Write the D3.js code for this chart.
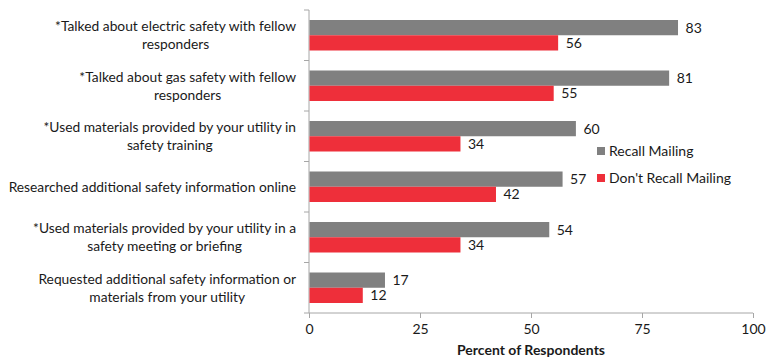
<!DOCTYPE html>
<html>
<head>
<meta charset="utf-8">
<script src="https://cdn.jsdelivr.net/npm/d3@7"></script>
<style>
  body { margin: 0; background: #fff; }
  svg text { font-family: Lato, "Open Sans", sans-serif; fill: #1a1a1a; }
</style>
</head>
<body>
<div id="chart"></div>
<script>
var categories = [
    ["*Talked about electric safety with fellow", "responders"],
    ["*Talked about gas safety with fellow", "responders"],
    ["*Used materials provided by your utility in", "safety training"],
    ["Researched additional safety information online"],
    ["*Used materials provided by your utility in a", "safety meeting or briefing"],
    ["Requested additional safety information or", "materials from your utility"]
];
var recall = [83, 81, 60, 57, 54, 17];
var dontRecall = [56, 55, 34, 42, 34, 12];
var seriesNames = ["Recall Mailing", "Don't Recall Mailing"];
var seriesColors = ["#808080", "#ee2f3a"];
var ticks = [0, 25, 50, 75, 100];

var width = 769, height = 360;
var margin = {top: 10, right: 16, bottom: 47, left: 309};

var svg = d3.select("#chart").append("svg")
    .attr("width", width)
    .attr("height", height);

var x = d3.scaleLinear().domain([0, 100]).range([margin.left, 753]);
var y = d3.scaleBand().domain(d3.range(categories.length))
    .range([margin.top, height - margin.bottom]);
var sub = d3.scaleBand().domain([0, 1]).range([10, y.bandwidth() - 10]);

// axes
var axisColor = "#a6a6a6";
svg.append("line")
    .attr("x1", x(0)).attr("x2", x(0))
    .attr("y1", margin.top).attr("y2", height - margin.bottom)
    .attr("stroke", axisColor);
svg.selectAll(".ytick")
    .data(d3.range(categories.length + 1))
    .enter().append("line")
    .attr("x1", x(0) - 5).attr("x2", x(0))
    .attr("y1", function(d) { return margin.top + d * y.step(); })
    .attr("y2", function(d) { return margin.top + d * y.step(); })
    .attr("stroke", axisColor);

var xAxis = svg.append("g")
    .attr("transform", "translate(0," + (height - margin.bottom) + ")")
    .call(d3.axisBottom(x).tickValues(ticks).tickSize(5).tickPadding(6));
xAxis.select(".domain").attr("stroke", axisColor).attr("d", "M" + x(0) + ",0H" + x(100));
xAxis.selectAll(".tick line").attr("stroke", axisColor);
xAxis.selectAll(".tick text")
    .style("font-size", "14px")
    .style("font-family", "Lato, 'Open Sans', sans-serif")
    .attr("fill", "#1a1a1a");

svg.append("text")
    .attr("x", (x(0) + x(100)) / 2)
    .attr("y", 355)
    .attr("text-anchor", "middle")
    .style("font-size", "14px")
    .style("font-weight", "bold")
    .text("Percent of Respondents");

// bars
var series = [recall, dontRecall];
series.forEach(function(vals, s) {
    svg.selectAll(".bar" + s)
        .data(vals)
        .enter().append("rect")
        .attr("x", x(0) + 0.5)
        .attr("y", function(d, i) { return y(i) + sub(s); })
        .attr("width", function(d) { return x(d) - x(0); })
        .attr("height", sub.bandwidth())
        .attr("fill", seriesColors[s]);
    svg.selectAll(".val" + s)
        .data(vals)
        .enter().append("text")
        .attr("x", function(d) { return x(d) + 8; })
        .attr("y", function(d, i) { return y(i) + sub(s) + sub.bandwidth() / 2; })
        .attr("dy", "0.35em")
        .style("font-size", "14px")
        .text(function(d) { return d; });
});

// category labels: lines centered within block, block right-aligned
categories.forEach(function(lines, i) {
    var g = svg.append("g");
    var texts = g.selectAll("text")
        .data(lines)
        .enter().append("text")
        .style("font-size", "13.8px")
        .attr("text-anchor", "middle")
        .text(function(d) { return d; });
    var maxW = 0;
    texts.each(function() { maxW = Math.max(maxW, this.getComputedTextLength()); });
    var cx = 296 - maxW / 2;
    var cy = y(i) + y.bandwidth() / 2;
    var lh = 18;
    texts.attr("x", cx)
        .attr("y", function(d, j) { return cy + (j - (lines.length - 1) / 2) * lh; })
        .attr("dy", "0.35em");
});

// legend
var legend = svg.selectAll(".legend")
    .data(seriesNames)
    .enter().append("g")
    .attr("transform", function(d, i) { return "translate(597," + (151 + i * 27) + ")"; });
legend.append("rect")
    .attr("x", 0).attr("y", -4)
    .attr("width", 8).attr("height", 8)
    .attr("fill", function(d, i) { return seriesColors[i]; });
legend.append("text")
    .attr("x", 12)
    .attr("dy", "0.35em")
    .style("font-size", "14px")
    .text(function(d) { return d; });
</script>
</body>
</html>
